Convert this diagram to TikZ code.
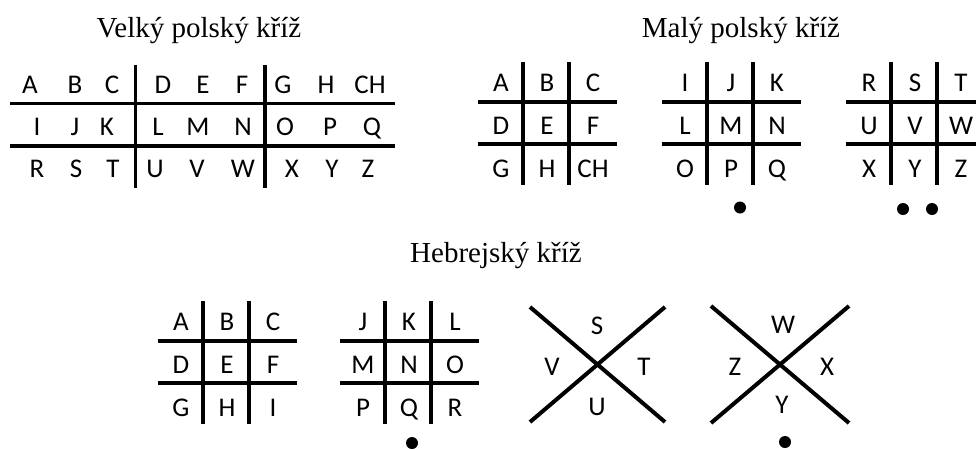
\documentclass[tikz,border=0pt]{standalone}
\usepackage{fontspec}
\setmainfont{Liberation Serif}
\newfontfamily\letterfont{Carlito}

% a 3x3 pigpen grid: #1 left x, #2 top y, #3 name prefix, #4 nine letters
\newcommand\tictac[4]{%
  \draw[bar] (#1,#2+40) -- (#1+139,#2+40);
  \draw[bar] (#1,#2+82) -- (#1+139,#2+82);
  \draw[bar] (#1+45,#2) -- (#1+45,#2+123);
  \draw[bar] (#1+91,#2) -- (#1+91,#2+123);
  \foreach \t [count=\i from 0] in {#4} {
    \pgfmathtruncatemacro\rr{div(\i,3)}
    \pgfmathtruncatemacro\cc{mod(\i,3)}
    \node[glyph] (#3\i) at ({#1+23+\cc*46}, {#2+29+\rr*43}) {\t};
  }%
}

\begin{document}
\begin{tikzpicture}[x=1pt,y=-1pt,
  bar/.style={line width=3.4pt},
  slant/.style={line width=4pt},
  glyph/.style={font=\letterfont\fontsize{27}{30}\selectfont, inner sep=0pt, anchor=base},
  heading/.style={font=\fontsize{29}{34}\selectfont, inner sep=0pt, anchor=base},
  knob/.style={fill=black}]
\useasboundingbox (0,0) rectangle (976,448);

% headings
\node[heading] (big)   at (199,37)  {Velký polský kříž};
\node[heading] (small) at (741,37)  {Malý polský kříž};
\node[heading] (heb)   at (496,262) {Hebrejský kříž};

% large polish cross: one long 3x9 table
\draw[bar] (10,103.5) -- (395,103.5);
\draw[bar] (10,146) -- (395,146);
\draw[bar] (135.5,64.5) -- (135.5,187.5);
\draw[bar] (265,64.5) -- (265,187.5);
\foreach \t/\x [count=\i] in {A/30,B/75,C/112,D/163,E/203,F/242,G/283,H/326,CH/370}
  \node[glyph] (ra\i) at (\x,93) {\t};
\foreach \t/\x [count=\i] in {I/37,J/75,K/107,L/158,M/198,N/243,O/285,P/330,Q/372}
  \node[glyph] (rb\i) at (\x,135) {\t};
\foreach \t/\x [count=\i] in {R/37,S/76,T/113,U/155,V/197,W/243,X/292,Y/332,Z/368}
  \node[glyph] (rc\i) at (\x,177) {\t};

% small polish cross
\tictac{478}{62}{pa}{A,B,C,D,E,F,G,H,CH}
\tictac{662}{62}{pb}{I,J,K,L,M,N,O,P,Q}
\tictac{846}{62}{pc}{R,S,T,U,V,W,X,Y,Z}
\fill[knob] (740,207.5) circle (6);
\fill[knob] (903,209) circle (6);
\fill[knob] (932,209) circle (6);

% hebrew cross
\tictac{158}{301}{ha}{A,B,C,D,E,F,G,H,I}
\tictac{340}{301}{hb}{J,K,L,M,N,O,P,Q,R}
\fill[knob] (412,443) circle (6);

\draw[slant] (530,307) -- (665,422);
\draw[slant] (530,422) -- (665,307);
\node[glyph, anchor=center] (xs) at (597,326) {S};
\node[glyph, anchor=center] (xv) at (552,367) {V};
\node[glyph, anchor=center] (xt) at (644,367) {T};
\node[glyph, anchor=center] (xu) at (597,407) {U};

\draw[slant] (711,306) -- (849,423);
\draw[slant] (711,423) -- (849,306);
\node[glyph, anchor=center] (xw) at (783,325) {W};
\node[glyph, anchor=center] (xz) at (735,367) {Z};
\node[glyph, anchor=center] (xx) at (827,367) {X};
\node[glyph, anchor=center] (xy) at (782,405) {Y};
\fill[knob] (785,442) circle (6);
\end{tikzpicture}
\end{document}
